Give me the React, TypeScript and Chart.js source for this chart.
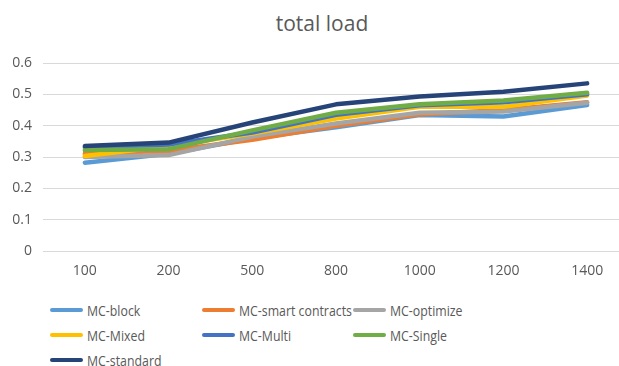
import React, { useEffect, useRef } from "react";
import { Chart, registerables } from "chart.js";

Chart.register(...registerables);

const categories = ["100", "200", "500", "800", "1000", "1200", "1400"];
const seriesNames = [
  "MC-block",
  "MC-smart contracts",
  "MC-optimize",
  "MC-Mixed",
  "MC-Multi",
  "MC-Single",
  "MC-standard",
];
const mcBlock = [0.282, 0.31, 0.36, 0.395, 0.434, 0.429, 0.466];
const mcSmart = [0.31, 0.32, 0.355, 0.4, 0.436, 0.45, 0.475];
const mcOptimize = [0.3, 0.306, 0.365, 0.407, 0.441, 0.445, 0.473];
const mcMixed = [0.303, 0.335, 0.375, 0.423, 0.46, 0.46, 0.496];
const mcMulti = [0.33, 0.34, 0.378, 0.435, 0.465, 0.475, 0.5];
const mcSingle = [0.322, 0.325, 0.385, 0.441, 0.468, 0.48, 0.505];
const mcStandard = [0.335, 0.346, 0.41, 0.468, 0.493, 0.508, 0.535];
const seriesValues = [mcBlock, mcSmart, mcOptimize, mcMixed, mcMulti, mcSingle, mcStandard];
const seriesColors = ["#5B9BD5", "#ED7D31", "#A5A5A5", "#FFC000", "#4472C4", "#70AD47", "#264478"];
const yTicks = [0, 0.1, 0.2, 0.3, 0.4, 0.5, 0.6];
const titleText = "total load";

const FONT = "'Open Sans', sans-serif";
const TEXT = "#595959";

export default function App() {
  const ref = useRef<HTMLCanvasElement | null>(null);

  useEffect(() => {
    if (!ref.current) return;
    const chart = new Chart(ref.current, {
      type: "line",
      data: {
        labels: categories,
        datasets: seriesNames.map((name, i) => ({
          label: name,
          data: seriesValues[i],
          borderColor: seriesColors[i],
          backgroundColor: seriesColors[i],
          borderWidth: 4.5,
          pointRadius: 0,
          tension: 0,
          borderCapStyle: "round" as const,
          borderJoinStyle: "round" as const,
          order: seriesNames.length - i,
        })),
      },
      options: {
        responsive: false,
        animation: false,
        layout: { padding: { left: 0, right: 11, top: 63, bottom: 0 } },
        plugins: {
          legend: { display: false },
          tooltip: { enabled: false },
          title: { display: false },
        },
        scales: {
          x: {
            offset: true,
            grid: { display: false, drawTicks: false },
            border: { display: false },
            ticks: { color: TEXT, font: { family: FONT, size: 14 }, padding: 12, maxRotation: 0 },
            afterFit: (s: any) => {
              s.height = 39;
            },
          },
          y: {
            min: 0,
            max: 0.6,
            afterBuildTicks: (s: any) => {
              s.ticks = yTicks.map((v) => ({ value: v }));
            },
            grid: { color: "#D9D9D9", lineWidth: 1, drawTicks: false },
            border: { display: false },
            ticks: { color: TEXT, font: { family: FONT, size: 14 }, padding: 11 },
            afterFit: (s: any) => {
              s.width = 43;
            },
          },
        },
      },
    });
    return () => chart.destroy();
  }, []);

  const legendPos = [
    [50, 310],
    [202, 310],
    [353, 310],
    [50, 335],
    [202, 335],
    [353, 335],
    [50, 360],
  ];

  return (
    <div
      style={{
        position: "fixed",
        left: 0,
        top: 0,
        width: 619,
        height: 366,
        overflow: "hidden",
        background: "#fff",
      }}
    >
      <div
        style={{
          position: "absolute",
          left: 222,
          width: 200,
          top: 9,
          textAlign: "center",
          fontFamily: FONT,
          fontSize: 21,
          lineHeight: "28px",
          color: TEXT,
        }}
      >
        {titleText}
      </div>
      <canvas ref={ref} width={640} height={290} style={{ position: "absolute", left: 0, top: 0, width: 640, height: 290 }} />
      {seriesNames.map((name, i) => (
        <div
          key={name}
          style={{
            position: "absolute",
            left: legendPos[i][0],
            top: legendPos[i][1] - 10,
            height: 20,
            display: "flex",
            alignItems: "center",
            fontFamily: FONT,
            fontSize: 14.5,
            color: TEXT,
            whiteSpace: "nowrap",
          }}
        >
          <span
            style={{
              display: "inline-block",
              width: 33,
              height: 4,
              borderRadius: 2,
              background: seriesColors[i],
              marginRight: 4,
            }}
          />
          <span style={{ display: "inline-block", transform: "scaleX(0.85)", transformOrigin: "left center" }}>{name}</span>
        </div>
      ))}
    </div>
  );
}
